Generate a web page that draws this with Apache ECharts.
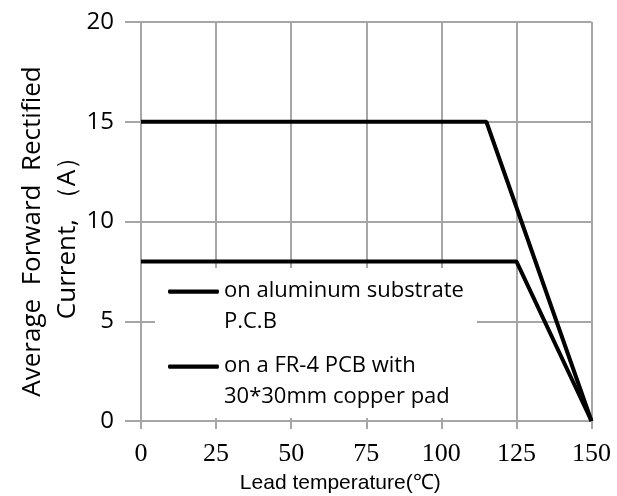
<!DOCTYPE html>
<html><head><meta charset="utf-8">
<script src="https://cdn.jsdelivr.net/npm/echarts@6/dist/echarts.min.js"></script>
<style>html,body{margin:0;padding:0;background:#fff}#c{width:617px;height:496px}</style>
</head><body><div id="c"></div>
<script>
const aluminumTemp = [0, 115, 150];
const aluminumCurrent = [15, 15, 0];
const fr4Temp = [0, 125, 150];
const fr4Current = [8, 8, 0];
const seriesNames = ['on aluminum substrate\nP.C.B', 'on a FR-4 PCB with\n30*30mm copper pad'];
const xName = 'Lead temperature(℃)';
const yName = 'Average  Forward  Rectified\nCurrent, （A）';

const pair = (xs, ys) => xs.map((x, i) => [x, ys[i]]);
const grey = '#a6a6a6';
// legend icon: a bar on the first text line, invisible points stretch the box to two lines
const legendIcon = 'path://M0,0L0.01,0L0,0Z M1,13.3L52,13.3Q53,13.3 53,15.5Q53,17.7 52,17.7L1,17.7Q0,17.7 0,15.5Q0,13.3 1,13.3Z M0,62L0.01,62L0,62Z';
const chart = echarts.init(document.getElementById('c'));
chart.setOption({
  animation: false,
  backgroundColor: '#fff',
  grid: {left: 141, right: 25.5, top: 22, bottom: 75, containLabel: false, outerBoundsMode: 'none'},
  legend: {
    data: seriesNames,
    orient: 'vertical',
    left: 155, top: 268,
    padding: [7.5, 13, 5.5, 13],
    itemGap: 13,
    itemWidth: 51, itemHeight: 62,
    backgroundColor: '#fff',
    icon: legendIcon,
    itemStyle: {color: '#000', borderWidth: 0},
    textStyle: {fontFamily: 'Open Sans', fontSize: 22, color: '#000', lineHeight: 31},
    selectedMode: false
  },
  xAxis: {
    type: 'value', min: 0, max: 150, interval: 25,
    name: xName, nameLocation: 'middle', nameGap: 52, nameMoveOverlap: false,
    nameTextStyle: {fontFamily: 'Liberation Sans', fontSize: 21, color: '#000', padding: [0, 52, 0, 0]},
    axisLine: {show: true, lineStyle: {color: grey, width: 2}},
    axisTick: {show: true, length: 8, lineStyle: {color: grey, width: 2}},
    axisLabel: {fontFamily: 'Liberation Serif', fontSize: 26, color: '#000', margin: 20},
    splitLine: {show: true, lineStyle: {color: grey, width: 2}}
  },
  yAxis: {
    type: 'value', min: 0, max: 20, interval: 5,
    name: yName, nameLocation: 'middle', nameGap: 56, nameRotate: 90, nameMoveOverlap: false,
    nameTextStyle: {fontFamily: 'Open Sans', fontSize: 26, color: '#000', lineHeight: 35, padding: [0, 20, 0, 0]},
    axisLine: {show: true, lineStyle: {color: grey, width: 2}},
    axisTick: {show: true, length: 16, lineStyle: {color: grey, width: 2}},
    axisLabel: {fontFamily: 'Open Sans', fontSize: 24, color: '#000', margin: 27},
    splitLine: {show: true, lineStyle: {color: grey, width: 2}}
  },
  series: [
    {name: seriesNames[0], type: 'line', data: pair(aluminumTemp, aluminumCurrent), showSymbol: false,
     lineStyle: {color: '#000', width: 4}, itemStyle: {color: '#000'}, z: 5},
    {name: seriesNames[1], type: 'line', data: pair(fr4Temp, fr4Current), showSymbol: false,
     lineStyle: {color: '#000', width: 4}, itemStyle: {color: '#000'}, z: 5}
  ]
});
</script></body></html>
